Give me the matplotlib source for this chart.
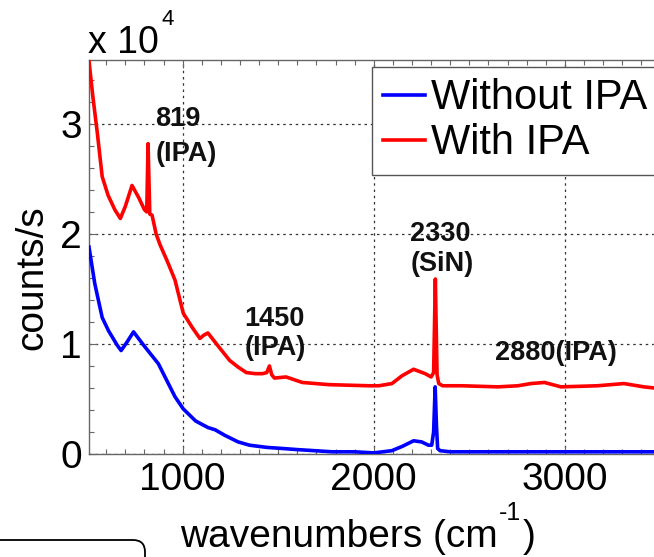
import matplotlib
matplotlib.use('Agg')
import matplotlib.pyplot as plt
from matplotlib.ticker import MultipleLocator, FuncFormatter
from matplotlib.patches import FancyBboxPatch
from matplotlib.transforms import IdentityTransform

plt.rcParams['font.family'] = ['Liberation Sans', 'DejaVu Sans']

# ---------------- data ----------------
series_names = ['Without IPA', 'With IPA']

wn_blue = [510, 540, 579, 612, 657, 678, 710, 743, 795, 873, 899, 960, 1003, 1068,
           1111, 1133, 1170, 1220, 1290, 1350, 1440, 1523, 1600, 1782, 1900, 2000,
           2094, 2150, 2208, 2250, 2286, 2303, 2313, 2321, 2328, 2334, 2347, 2400,
           2600, 2800, 3000, 3200, 3466]
counts_blue = [18800, 15500, 12400, 11200, 9900, 9400, 10200, 11100, 9900, 8200, 7300,
               5200, 4100, 3000, 2600, 2400, 2200, 1700, 1100, 800, 600, 500, 400,
               200, 200, 100, 300, 700, 1200, 1100, 800, 800, 2000, 6100, 2500, 500,
               300, 200, 200, 200, 200, 200, 200]

wn_red = [510, 530, 554, 579, 610, 645, 674, 700, 735, 770, 800, 812, 819, 828, 840,
          861, 882, 920, 960, 1003, 1050, 1090, 1111, 1132, 1177, 1246, 1290, 1333,
          1380, 1418, 1440, 1454, 1466, 1480, 1541, 1626, 1766, 1974, 2026, 2095,
          2147, 2208, 2269, 2300, 2313, 2322, 2331, 2340, 2360, 2459, 2650, 2754,
          2822, 2893, 2979, 3170, 3309, 3413, 3466]
counts_red = [35700, 32500, 29100, 25200, 23500, 22200, 21400, 22500, 24400, 23300,
              22200, 22000, 28200, 21800, 21700, 20000, 19000, 17500, 15800, 12800,
              11500, 10500, 10800, 11000, 10000, 8500, 7900, 7400, 7300, 7300, 7400,
              8000, 7200, 6900, 7000, 6500, 6300, 6200, 6200, 6400, 7100, 7700, 7300,
              7000, 7400, 15900, 7200, 6400, 6200, 6200, 6100, 6200, 6400, 6500, 6100,
              6200, 6400, 6100, 6000]

x_ticks = [1000, 2000, 3000]
y_ticks = [0, 10000, 20000, 30000]

peak_labels = [('819', '(IPA)'), ('1450', '(IPA)'), ('2330', '(SiN)'), ('2880(IPA)', None)]

# ---------------- figure ----------------
W, H = 654, 557
fig = plt.figure(figsize=(W / 100, H / 100), dpi=100)
ax = fig.add_axes([89 / W, 1 - 454 / H, 571.5 / W, 394 / H])

ax.plot(wn_blue, counts_blue, color='#0000ff', lw=2.6, label=series_names[0], zorder=3)
ax.plot(wn_red, counts_red, color='#ff0000', lw=2.6, label=series_names[1], zorder=3)

ax.set_xlim(510, 3500)
ax.set_ylim(0, 35800)
ax.set_xticks(x_ticks)
ax.set_yticks(y_ticks)
ax.xaxis.set_minor_locator(MultipleLocator(100))
ax.yaxis.set_minor_locator(MultipleLocator(2000))
ax.yaxis.set_major_formatter(FuncFormatter(lambda v, p: f'{v / 1e4:g}'))

ax.tick_params(which='both', direction='in', top=True, right=True,
               color='#666666', labelcolor='black', labelsize=28)
ax.tick_params(which='major', length=6, width=0.8)
ax.tick_params(which='minor', length=3.5, width=0.8)
ax.tick_params(axis='x', pad=6)
ax.tick_params(axis='y', pad=5)
for s in ax.spines.values():
    s.set_color('#666666')
    s.set_linewidth(1.0)

ax.grid(True, which='major', ls=(0, (2, 3)), color='#333333', lw=0.9)
ax.set_axisbelow(True)

# peak annotations
ann_kw = dict(fontsize=19.5, fontweight='bold', color='#111111', ha='left', va='center')
ax.text(857, 30400, peak_labels[0][0], **ann_kw)
ax.text(857, 27300, peak_labels[0][1], **ann_kw)
ax.text(1324, 12300, peak_labels[1][0], **ann_kw)
ax.text(1324, 9600, peak_labels[1][1], **ann_kw)
ax.text(2192, 20000, peak_labels[2][0], **ann_kw)
ax.text(2192, 17300, peak_labels[2][1], **ann_kw)
ax.text(2634, 9200, peak_labels[3][0], **ann_kw)

# legend
leg = ax.legend(loc='upper left', bbox_to_anchor=(372 / W, 1 - 67 / H),
                bbox_transform=fig.transFigure, borderaxespad=0, fontsize=30,
                handlelength=1.0, handletextpad=0.15, borderpad=0.27,
                labelspacing=0.12, fancybox=False, framealpha=1)
leg.get_frame().set_edgecolor('#555555')
leg.get_frame().set_linewidth(1.0)

# y label & exponent
fig.text(32 / W, 1 - 278 / H, 'counts/s', fontsize=28, rotation=90,
         ha='center', va='center')
fig.text(87.5 / W, 1 - 53 / H, 'x 10', fontsize=27, ha='left', va='baseline')
fig.text(162 / W, 1 - 25 / H, '4', fontsize=16, ha='left', va='baseline')

# x label built from pieces so that the superscript uses a plain hyphen
base_y = 1 - 547 / H
t1 = fig.text(0, base_y, 'wavenumbers (cm', fontsize=28, ha='left', va='baseline')
t2 = fig.text(0, 1 - 520 / H, '-1', fontsize=18, ha='left', va='baseline')
t3 = fig.text(0, base_y, ')', fontsize=28, ha='left', va='baseline')
fig.canvas.draw()
r = fig.canvas.get_renderer()
w1 = t1.get_window_extent(r).width
w2 = t2.get_window_extent(r).width
w3 = t3.get_window_extent(r).width
total = w1 + 1 + w2 + 1 + w3
x0 = 358 - total / 2
t1.set_x(x0 / W)
t2.set_x((x0 + w1 + 1) / W)
t3.set_x((x0 + w1 + 1 + w2 + 1) / W)

# rounded box fragment in bottom-left corner
box = FancyBboxPatch((-40, -40), 185, 57, boxstyle='round,pad=0,rounding_size=12',
                     transform=IdentityTransform(), fill=False, edgecolor='black', lw=1.3)
fig.add_artist(box)

fig.savefig('out.png', dpi=100)
